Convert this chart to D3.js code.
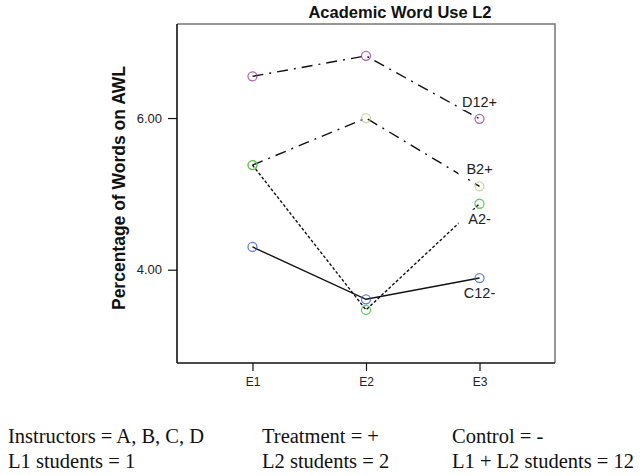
<!DOCTYPE html>
<html>
<head>
<meta charset="utf-8">
<script src="https://cdn.jsdelivr.net/npm/d3@7"></script>
<style>
  body { margin: 0; background: #fff; }
  svg { display: block; }
  .sans { font-family: Arial, "Liberation Sans", sans-serif; }
  .serif { font-family: "Times New Roman", "Liberation Serif", serif; }
</style>
</head>
<body>
<div class="chart"></div>
<script>
// ----- DATA ------------------------------------------------------------
const occasions = ["E1", "E2", "E3"];
const seriesNames = ["D12+", "B2+", "A2-", "C12-"];
const seriesD = [6.55, 6.82, 5.99];
const seriesB = [5.38, 6.00, 5.10];
const seriesA = [5.38, 3.47, 4.87];
const seriesC = [4.30, 3.61, 3.89];
const yTicks = [4.00, 6.00];
const labelSide = ["above", "above", "below", "below"];
const footerRow1 = ["Instructors = A, B, C, D", "Treatment = +", "Control = -"];
const footerRow2 = ["L1 students = 1", "L2 students = 2", "L1 + L2 students = 12"];

const seriesValues = [seriesD, seriesB, seriesA, seriesC];
const colours = ["#993399", "#c9c48e", "#33bb33", "#3355cc"];
const dashes = ["11,6,2,6", "11,6,2,6", "3,2", null];

// ----- CHART -----------------------------------------------------------
const width = 640, height = 475;
const margin = { top: 24, right: 85, bottom: 112, left: 177 };
const innerWidth = width - margin.left - margin.right;
const innerHeight = height - margin.top - margin.bottom;

const svg = d3.select(".chart").append("svg")
    .attr("width", width)
    .attr("height", height);

const x = d3.scalePoint()
    .domain(occasions)
    .range([0, innerWidth])
    .padding(0.665);

const y = d3.scaleLinear()
    .domain([2.77, 7.24])
    .range([innerHeight, 0]);

const chart = svg.append("g")
    .attr("transform", "translate(" + margin.left + "," + margin.top + ")");

// frame: top & right grey, left & bottom drawn by the axes
chart.append("path")
    .attr("d", "M0,0H" + innerWidth + "V" + innerHeight)
    .attr("fill", "none")
    .attr("stroke", "#777")
    .attr("stroke-width", 1.5);

const yAxis = d3.axisLeft(y)
    .tickValues(yTicks)
    .tickFormat(d3.format(".2f"))
    .tickSizeInner(9)
    .tickSizeOuter(0)
    .tickPadding(6);

const xAxis = d3.axisBottom(x)
    .tickSizeInner(8)
    .tickSizeOuter(0)
    .tickPadding(6);

const yAxisGroup = chart.append("g").call(yAxis);
yAxisGroup.select(".domain").attr("stroke", "#111").attr("stroke-width", 1.6)
    .attr("d", "M0,0V" + innerHeight);
yAxisGroup.selectAll(".tick line").attr("stroke", "#111").attr("stroke-width", 1.2);
yAxisGroup.selectAll(".tick text")
    .attr("class", "sans")
    .attr("font-size", 13)
    .attr("fill", "#222");

const xAxisGroup = chart.append("g")
    .attr("transform", "translate(0," + innerHeight + ")")
    .call(xAxis);
xAxisGroup.select(".domain").attr("stroke", "#111").attr("stroke-width", 1.6)
    .attr("d", "M0,0H" + innerWidth);
xAxisGroup.selectAll(".tick line").attr("stroke", "#111").attr("stroke-width", 1.2);
xAxisGroup.selectAll(".tick text")
    .attr("class", "sans")
    .attr("font-size", 12)
    .attr("fill", "#222");

// lines
const line = d3.line()
    .x((d, i) => x(occasions[i]))
    .y(d => y(d));

chart.selectAll(".series")
    .data(seriesValues)
    .enter()
        .append("path")
        .attr("d", d => line(d))
        .attr("fill", "none")
        .attr("stroke", "#111")
        .attr("stroke-width", 1.4)
        .attr("stroke-dasharray", (d, i) => dashes[i]);

// labels with white boxes, next to the last point
const last = occasions.length - 1;
const labels = chart.selectAll(".seriesLabel")
    .data(seriesValues)
    .enter()
        .append("g")
        .attr("transform", (d, i) => {
            const dy = labelSide[i] === "above" ? -17 : 15;
            return "translate(" + x(occasions[last]) + "," + (y(d[last]) + dy) + ")";
        });

labels.append("rect")
    .attr("x", -21)
    .attr("y", -9)
    .attr("width", 42)
    .attr("height", 17)
    .attr("fill", "#fff");

labels.append("text")
    .attr("class", "sans")
    .attr("font-size", 14.5)
    .attr("fill", "#222")
    .attr("text-anchor", "middle")
    .attr("dy", "0.35em")
    .text((d, i) => seriesNames[i]);

// markers
seriesValues.forEach((vals, s) => {
    chart.selectAll(".marker" + s)
        .data(vals)
        .enter()
            .append("circle")
            .attr("cx", (d, i) => x(occasions[i]))
            .attr("cy", d => y(d))
            .attr("r", 4.5)
            .attr("fill", "none")
            .attr("stroke", colours[s])
            .attr("stroke-opacity", 0.75)
            .attr("stroke-width", 1.3);
});

// title & axis label
svg.append("text")
    .attr("class", "sans")
    .attr("x", 400)
    .attr("y", 18)
    .attr("text-anchor", "middle")
    .attr("font-size", 16.5)
    .attr("font-weight", "bold")
    .attr("fill", "#111")
    .text("Academic Word Use L2");

svg.append("text")
    .attr("class", "sans")
    .attr("transform", "translate(125," + 188 + ") rotate(-90)")
    .attr("text-anchor", "middle")
    .attr("font-size", 17.5)
    .attr("font-weight", "bold")
    .attr("fill", "#111")
    .text("Percentage of Words on AWL");

// footer notes
const colX = [8, 262, 452];
[footerRow1, footerRow2].forEach((row, r) => {
    svg.selectAll(".footer" + r)
        .data(row)
        .enter()
            .append("text")
            .attr("class", "serif")
            .attr("x", (d, i) => colX[i])
            .attr("y", 443 + r * 25)
            .attr("font-size", 20.5)
            .attr("fill", "#111")
            .text(d => d);
});
</script>
</body>
</html>
